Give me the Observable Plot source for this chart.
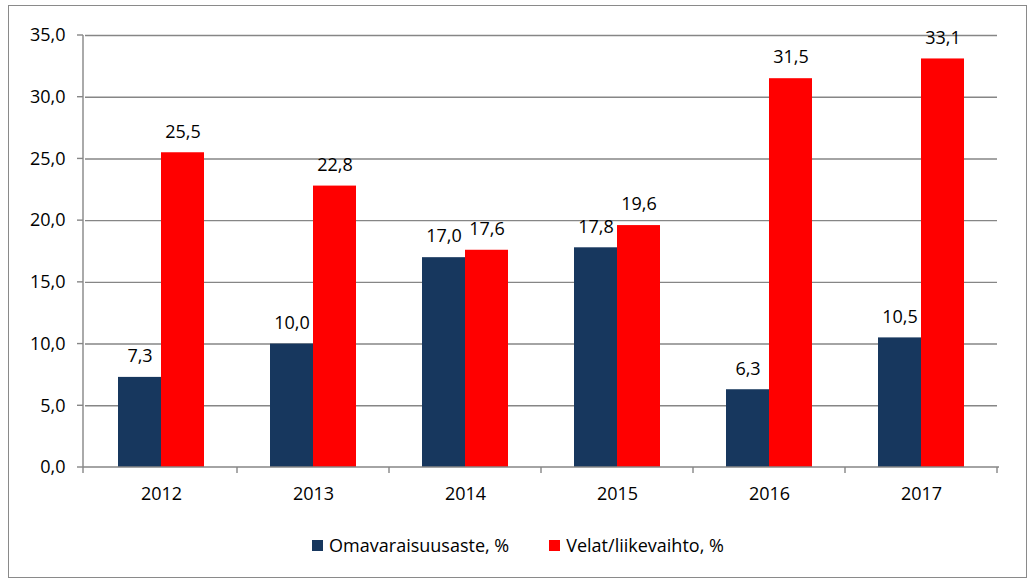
<!DOCTYPE html>
<html>
<head>
<meta charset="utf-8">
<script src="https://cdn.jsdelivr.net/npm/d3@7"></script>
<script src="https://cdn.jsdelivr.net/npm/@observablehq/plot@0.6"></script>
<style>
  html, body { margin: 0; padding: 0; background: #fff; width: 1028px; height: 578px; overflow: hidden; }
  #frame { position: absolute; left: 8px; top: 5px; width: 1019px; height: 573px; box-sizing: border-box; border: 1.5px solid #8a8a8a; }
  #chart { position: absolute; left: 0; top: 0; }
  #legend { position: absolute; left: 0; top: 533px; width: 1036px; display: flex; justify-content: center; align-items: center;
            font-family: "Open Sans", sans-serif; font-size: 18px; color: #000; }
  .item { display: flex; align-items: center; margin: 0 20px; }
  .sw { width: 11px; height: 11px; margin-right: 6px; }
</style>
</head>
<body>
<div id="frame"></div>
<div id="chart"></div>
<div id="legend"></div>
<script>
const years = ["2012", "2013", "2014", "2015", "2016", "2017"];
const seriesNames = ["Omavaraisuusaste, %", "Velat/liikevaihto, %"];
const omavaraisuusaste = [7.3, 10.0, 17.0, 17.8, 6.3, 10.5];
const velatLiikevaihto = [25.5, 22.8, 17.6, 19.6, 31.5, 33.1];
const yTicks = [0, 5, 10, 15, 20, 25, 30, 35];
const colors = ["#17375E", "#FF0000"];

const data = years.flatMap((y, i) => [
  {year: y, series: seriesNames[0], value: omavaraisuusaste[i]},
  {year: y, series: seriesNames[1], value: velatLiikevaihto[i]}
]);
const fmt = v => v.toFixed(1).replace(".", ",");
const grid = "#868686";

const plot = Plot.plot({
  width: 1028,
  height: 512,
  marginLeft: 83,
  marginRight: 29,
  marginTop: 35,
  marginBottom: 45,
  style: {fontFamily: "'Open Sans', sans-serif", fontSize: "18px", color: "#000", background: "transparent", overflow: "visible"},
  facet: {data, x: "year"},
  fx: {domain: years, padding: 0, label: null, tickSize: 0, tickPadding: 20, axis: "bottom"},
  x: {domain: seriesNames, paddingInner: 0, paddingOuter: 0.755, axis: null},
  y: {domain: [0, 35], ticks: yTicks, tickFormat: fmt, label: null, tickSize: 0, tickPadding: 20},
  color: {domain: seriesNames, range: colors},
  marks: [
    Plot.ruleY(yTicks.filter(d => d > 0), {stroke: grid, strokeWidth: 1.4}),
    Plot.barY(data, {x: "series", y: "value", fill: "series"}),
    Plot.text(data, {x: "series", y: "value", text: d => fmt(d.value), dy: -21, fill: "#000"})
  ]
});
document.getElementById("chart").appendChild(plot);

// axis lines and category-boundary ticks, positioned from the plot's own scales
const fx = plot.scale("fx");
const ys = plot.scale("y");
const svg = d3.select(plot);
const g = svg.append("g").attr("stroke", grid).attr("stroke-width", 1.4);
const x0 = fx.range[0], x1 = fx.range[1];
const y0 = ys.apply(0), yTop = ys.apply(35);
yTicks.forEach(t => {
  g.append("line").attr("x1", x0 - 6).attr("x2", x0).attr("y1", ys.apply(t)).attr("y2", ys.apply(t));
});
g.append("line").attr("x1", x0).attr("x2", x0).attr("y1", yTop).attr("y2", y0 + 6);
g.append("line").attr("x1", x0).attr("x2", x1).attr("y1", y0).attr("y2", y0);
years.forEach(yv => {
  const bx = fx.apply(yv) + fx.step;
  g.append("line").attr("x1", bx).attr("x2", bx).attr("y1", y0).attr("y2", y0 + 6);
});

const legend = d3.select("#legend");
seriesNames.forEach((s, i) => {
  const it = legend.append("div").attr("class", "item");
  it.append("div").attr("class", "sw").style("background", colors[i]);
  it.append("span").text(s);
});
</script>
</body>
</html>
